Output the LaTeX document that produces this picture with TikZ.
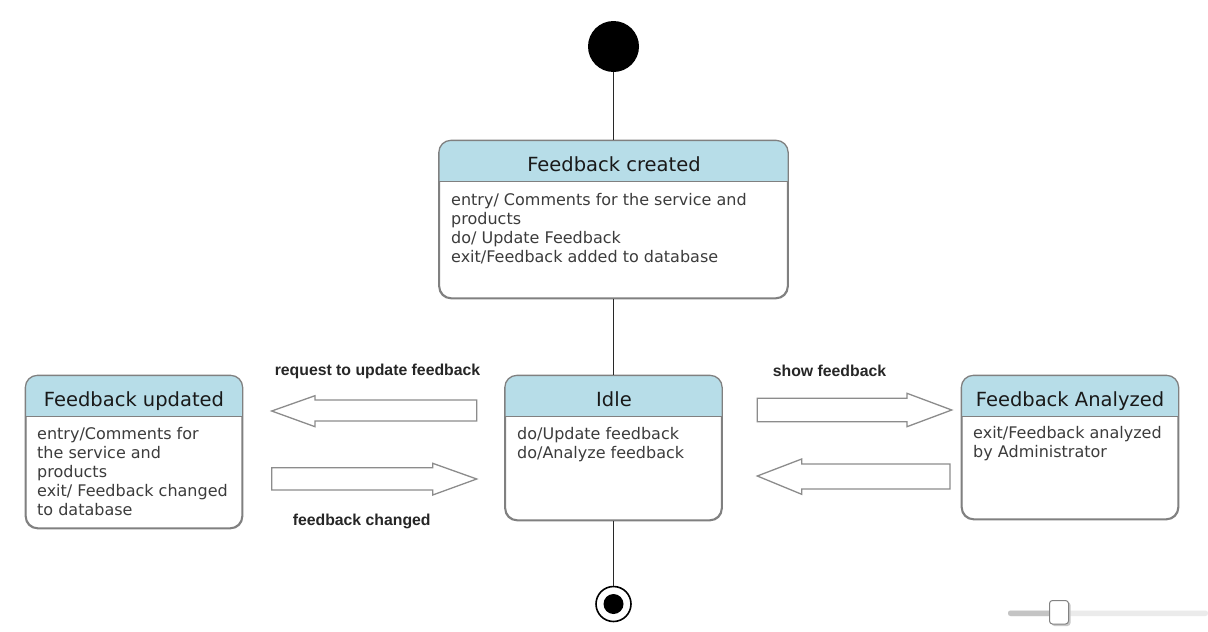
\documentclass[tikz,border=0pt]{standalone}
\usepackage{fontspec}
\setmainfont{DejaVu Sans}
\newfontfamily\labfont{Liberation Sans}
\definecolor{hdrblue}{RGB}{183,221,232}
\definecolor{boxgray}{RGB}{128,128,128}
\definecolor{arrgray}{RGB}{140,140,140}
\definecolor{bodycol}{RGB}{60,60,60}
\definecolor{titlecol}{RGB}{25,25,25}
\definecolor{labcol}{RGB}{38,38,38}
\definecolor{linecol}{RGB}{40,40,40}
\newcommand\statehdr[1]{%
  \begin{scope}
    \clip[rounded corners=12pt] (#1.north west) rectangle (#1.south east);
    \fill[hdrblue] (#1.north west) rectangle ([yshift=-41pt]#1.north east);
  \end{scope}
  \draw[sepline] ([yshift=-41pt]#1.north west) -- ([yshift=-41pt]#1.north east);
  \draw[boxline] (#1.north west) rectangle (#1.south east);
}
\begin{document}
\begin{tikzpicture}[x=1pt,y=-1pt,
  boxline/.style={draw=boxgray, line width=1.3pt, rounded corners=12pt},
  sepline/.style={draw=boxgray, line width=1.3pt},
  statebox/.style={boxline, fill=white, inner sep=0pt},
  titletext/.style={font=\fontsize{19.5}{23}\selectfont, text=titlecol, inner sep=0pt},
  bodytext/.style={font=\fontsize{16}{19}\selectfont, text=bodycol, align=left, inner sep=0pt},
  labtext/.style={font=\labfont\bfseries\fontsize{15.8}{18}\selectfont, text=labcol, inner sep=0pt},
  conn/.style={draw=linecol, line width=1.9pt},
  blockarrow/.style={draw=arrgray, line width=1.3pt, fill=white, line join=miter}
]
\useasboundingbox[fill=white] (0,0) rectangle (1208,632);

% initial state
\node[circle, fill=black, minimum size=51pt, inner sep=0pt] (init) at (613.5,46.5) {};

% states
\node[statebox, minimum width=348pt, minimum height=157pt] (created) at (613.5,219.5) {};
\node[statebox, minimum width=216pt, minimum height=144pt] (idle) at (613.5,448) {};
\node[statebox, minimum width=216pt, minimum height=152pt] (updated) at (134,452) {};
\node[statebox, minimum width=216pt, minimum height=143pt] (analyzed) at (1070,447.5) {};
\statehdr{created}
\statehdr{idle}
\statehdr{updated}
\statehdr{analyzed}

% titles
\node[titletext, anchor=base] (createdT) at (614,171.5) {Feedback created};
\node[titletext, anchor=base] (idleT) at (614,406) {Idle};
\node[titletext, anchor=base] (updatedT) at (134,406) {Feedback updated};
\node[titletext, anchor=base] (analyzedT) at (1070,406) {Feedback Analyzed};

% bodies (base anchor = baseline of the last line)
\node[bodytext, anchor=base west] (createdB) at (451,262) {entry/ Comments for the service and\\products\\do/ Update Feedback\\exit/Feedback added to database};
\node[bodytext, anchor=base west] (idleB) at (517,458.5) {do/Update feedback\\do/Analyze feedback};
\node[bodytext, anchor=base west] (updatedB) at (37,515.5) {entry/Comments for\\the service and\\products\\exit/ Feedback changed\\to database};
\node[bodytext, anchor=base west] (analyzedB) at (973,457.5) {exit/Feedback analyzed\\by Administrator};

% final state
\node[circle, draw=black, line width=1.6pt, fill=white, minimum size=35pt, inner sep=0pt] (final) at (613.5,604) {};
\node[circle, fill=black, minimum size=20pt, inner sep=0pt] (finalIn) at (final.center) {};

% connectors
\draw[conn] (init.south) -- (created.north);
\draw[conn] (created.south) -- (idle.north);
\draw[conn] (idle.south) -- (final.north);

% block arrows
\coordinate (a1) at (271.7,411);
\draw[blockarrow] (a1) -- (315,395.7) -- (315,400) -- (476.7,400) -- (476.7,421) -- (315,421) -- (315,426.7) -- cycle;
\coordinate (a2) at (476.7,479);
\draw[blockarrow] (a2) -- (432.7,463.3) -- (432.7,467.7) -- (271.7,467.7) -- (271.7,490) -- (432.7,490) -- (432.7,495) -- cycle;
\coordinate (a3) at (951.7,410);
\draw[blockarrow] (a3) -- (907,393.3) -- (907,398.3) -- (757.3,398.3) -- (757.3,421.7) -- (907,421.7) -- (907,426.7) -- cycle;
\coordinate (a4) at (757.3,476);
\draw[blockarrow] (a4) -- (801.7,459) -- (801.7,464) -- (950,464) -- (950,489) -- (801.7,489) -- (801.7,494.3) -- cycle;

% labels
\node[labtext, anchor=base] (l1) at (377.5,375.5) {request to update feedback};
\node[labtext, anchor=base] (l2) at (361.7,525.7) {feedback changed};
\node[labtext, anchor=base] (l3) at (829.5,376) {show feedback};

% slider
\fill[rounded corners=2.5pt, fill={rgb,255:red,235;green,235;blue,235}] (1008,610.5) rectangle (1208,616);
\fill[rounded corners=2.5pt, fill={rgb,255:red,196;green,196;blue,196}] (1008,610.5) rectangle (1060,616);
\fill[rounded corners=3pt, fill={rgb,255:red,200;green,200;blue,200}] (1051.5,602) rectangle (1070.5,626);
\draw[rounded corners=3pt, draw={rgb,255:red,130;green,130;blue,130}, fill=white, line width=1pt] (1049.5,600.5) rectangle (1068.5,624);
\end{tikzpicture}
\end{document}
